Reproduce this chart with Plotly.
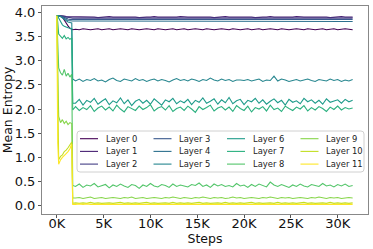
import plotly.graph_objects as go

# ---------------- data ----------------
steps = [0, 100, 200, 400, 600, 800, 1000, 1200, 1400, 1600, 1700] + list(range(2000, 31601, 400))

layer_names = ["Layer 0", "Layer 1", "Layer 2", "Layer 3", "Layer 4", "Layer 5",
               "Layer 6", "Layer 7", "Layer 8", "Layer 9", "Layer 10", "Layer 11"]

layer_colors = ["#440154", "#482173", "#433e85", "#38588c", "#2d708e", "#25858e",
                "#1e9b8a", "#2ab07f", "#52c569", "#86d549", "#c2df23", "#fde725"]

layer_0 = [3.93, 3.93, 3.93, 3.92, 3.90, 3.85, 3.78, 3.72, 3.67, 3.65, 3.64,
           3.65, 3.64, 3.66, 3.65, 3.64, 3.65, 3.66, 3.64, 3.65, 3.66,
           3.64, 3.65, 3.66, 3.65, 3.64, 3.66, 3.65, 3.64, 3.65, 3.66,
           3.65, 3.64, 3.66, 3.65, 3.64, 3.65, 3.66, 3.64, 3.65, 3.66,
           3.64, 3.65, 3.66, 3.65, 3.64, 3.66, 3.65, 3.64, 3.65, 3.66,
           3.65, 3.64, 3.66, 3.65, 3.64, 3.65, 3.66, 3.64, 3.65, 3.66,
           3.64, 3.65, 3.66, 3.65, 3.64, 3.66, 3.65, 3.64, 3.65, 3.66,
           3.65, 3.64, 3.66, 3.65, 3.64, 3.65, 3.66, 3.64, 3.65, 3.66,
           3.64, 3.65, 3.66, 3.65, 3.64]

layer_1 = [3.93, 3.93, 3.93, 3.93, 3.93, 3.92, 3.91, 3.91, 3.90, 3.90, 3.90,
           3.90, 3.90, 3.91, 3.90, 3.90, 3.90, 3.89, 3.90, 3.90, 3.91,
           3.90, 3.90, 3.90, 3.90, 3.91, 3.90, 3.90, 3.89, 3.90, 3.90,
           3.90, 3.91, 3.90, 3.90, 3.90, 3.90, 3.89, 3.90, 3.91, 3.90,
           3.90, 3.90, 3.90, 3.91, 3.90, 3.90, 3.90, 3.89, 3.90, 3.90,
           3.91, 3.90, 3.90, 3.90, 3.90, 3.91, 3.90, 3.90, 3.89, 3.90,
           3.90, 3.90, 3.91, 3.90, 3.90, 3.90, 3.90, 3.89, 3.90, 3.91,
           3.90, 3.90, 3.90, 3.90, 3.91, 3.90, 3.90, 3.90, 3.89, 3.90,
           3.90, 3.91, 3.90, 3.90, 3.90]

layer_2 = [3.93, 3.93, 3.93, 3.93, 3.92, 3.91, 3.90, 3.89, 3.88, 3.88, 3.88,
           3.88, 3.88, 3.87, 3.88, 3.88, 3.88, 3.88, 3.87, 3.88, 3.88,
           3.88, 3.87, 3.88, 3.88, 3.88, 3.88, 3.87, 3.88, 3.88, 3.88,
           3.88, 3.88, 3.87, 3.88, 3.88, 3.88, 3.88, 3.88, 3.87, 3.88,
           3.88, 3.88, 3.88, 3.87, 3.88, 3.88, 3.88, 3.88, 3.88, 3.87,
           3.88, 3.88, 3.88, 3.87, 3.88, 3.88, 3.88, 3.88, 3.87, 3.88,
           3.88, 3.88, 3.88, 3.88, 3.87, 3.88, 3.88, 3.88, 3.88, 3.87,
           3.88, 3.88, 3.88, 3.88, 3.88, 3.87, 3.88, 3.88, 3.88, 3.88,
           3.87, 3.88, 3.88, 3.88, 3.88]

layer_3 = [3.93, 3.93, 3.93, 3.92, 3.91, 3.89, 3.87, 3.86, 3.85, 3.85, 3.85,
           3.85, 3.85, 3.85, 3.84, 3.85, 3.85, 3.85, 3.85, 3.84, 3.85,
           3.85, 3.85, 3.84, 3.85, 3.85, 3.85, 3.85, 3.85, 3.84, 3.85,
           3.85, 3.84, 3.85, 3.85, 3.85, 3.85, 3.84, 3.85, 3.85, 3.85,
           3.85, 3.85, 3.84, 3.85, 3.85, 3.85, 3.85, 3.84, 3.85, 3.85,
           3.85, 3.84, 3.85, 3.85, 3.85, 3.85, 3.85, 3.84, 3.85, 3.85,
           3.85, 3.85, 3.85, 3.84, 3.85, 3.85, 3.85, 3.85, 3.84, 3.85,
           3.85, 3.85, 3.84, 3.85, 3.85, 3.85, 3.85, 3.85, 3.84, 3.85,
           3.85, 3.85, 3.85, 3.84, 3.85]

layer_4 = [3.93, 3.93, 3.93, 3.92, 3.90, 3.87, 3.85, 3.83, 3.82, 3.82, 3.82,
           3.82, 3.82, 3.81, 3.82, 3.82, 3.82, 3.82, 3.81, 3.82, 3.82,
           3.82, 3.81, 3.82, 3.82, 3.82, 3.82, 3.82, 3.81, 3.82, 3.82,
           3.82, 3.82, 3.81, 3.82, 3.82, 3.82, 3.81, 3.82, 3.82, 3.82,
           3.82, 3.82, 3.82, 3.81, 3.82, 3.82, 3.82, 3.82, 3.81, 3.82,
           3.82, 3.81, 3.82, 3.82, 3.82, 3.82, 3.82, 3.81, 3.82, 3.82,
           3.82, 3.82, 3.81, 3.82, 3.82, 3.82, 3.82, 3.82, 3.81, 3.82,
           3.82, 3.82, 3.82, 3.81, 3.82, 3.82, 3.82, 3.82, 3.82, 3.81,
           3.82, 3.82, 3.82, 3.82, 3.81]

layer_5 = [3.93, 3.93, 3.93, 3.91, 3.88, 3.85, 3.82, 3.80, 3.79, 3.78, 2.62,
           2.58, 2.62, 2.57, 2.61, 2.59, 2.63, 2.58, 2.60, 2.56, 2.61,
           2.64, 2.59, 2.57, 2.62, 2.60, 2.58, 2.63, 2.59, 2.61, 2.57,
           2.60, 2.62, 2.58, 2.61, 2.59, 2.56, 2.60, 2.63, 2.59, 2.61,
           2.58, 2.62, 2.60, 2.57, 2.61, 2.59, 2.64, 2.60, 2.58, 2.62,
           2.59, 2.61, 2.57, 2.60, 2.60, 2.59, 2.61, 2.58, 2.60, 2.62,
           2.57, 2.60, 2.59, 2.68, 2.58, 2.62, 2.60, 2.57, 2.59, 2.61,
           2.58, 2.60, 2.62, 2.59, 2.57, 2.61, 2.60, 2.58, 2.62, 2.59,
           2.61, 2.57, 2.60, 2.58, 2.61]

layer_6 = [3.93, 3.92, 3.88, 3.80, 3.74, 3.71, 3.69, 3.68, 3.67, 3.66, 2.12,
           2.12, 2.20, 2.08, 2.18, 2.14, 2.22, 2.10, 2.16, 2.21, 2.09,
           2.17, 2.13, 2.23, 2.11, 2.19, 2.07, 2.16, 2.20, 2.12, 2.18,
           2.10, 2.21, 2.14, 2.08, 2.19, 2.15, 2.22, 2.11, 2.17, 2.13,
           2.20, 2.09, 2.18, 2.14, 2.23, 2.12, 2.16, 2.21, 2.10, 2.19,
           2.13, 2.24, 2.11, 2.17, 2.20, 2.09, 2.18, 2.15, 2.22, 2.12,
           2.19, 2.10, 2.16, 2.21, 2.13, 2.18, 2.08, 2.20, 2.14, 2.17,
           2.11, 2.22, 2.15, 2.19, 2.12, 2.18, 2.10, 2.21, 2.14, 2.17,
           2.19, 2.12, 2.20, 2.15, 2.18]

layer_7 = [3.93, 3.80, 3.55, 3.50, 3.46, 3.52, 3.45, 3.48, 3.44, 3.47, 1.98,
           2.05, 1.97, 2.03, 1.99, 2.07, 1.95, 2.02, 2.06, 1.98, 2.04,
           1.96, 2.08, 2.00, 1.94, 2.05, 2.01, 1.97, 2.06, 1.99, 2.03,
           2.09, 1.96, 2.02, 2.05, 1.98, 2.07, 1.95, 2.01, 2.04, 1.97,
           2.06, 2.00, 1.93, 2.05, 1.99, 2.03, 2.08, 1.96, 2.02, 2.05,
           1.98, 2.04, 1.95, 2.07, 2.01, 1.97, 2.06, 1.94, 2.03, 2.00,
           2.05, 1.96, 2.08, 1.99, 2.02, 1.95, 2.06, 2.01, 1.97, 2.04,
           2.00, 2.07, 1.96, 2.03, 1.98, 2.05, 2.01, 1.95, 2.04, 1.99,
           2.06, 1.98, 2.03, 2.00, 2.02]

layer_8 = [3.93, 3.20, 2.85, 2.75, 2.70, 2.82, 2.68, 2.74, 2.66, 2.72, 0.42,
           0.40, 0.45, 0.38, 0.43, 0.41, 0.46, 0.39, 0.42, 0.44, 0.37,
           0.43, 0.40, 0.45, 0.41, 0.38, 0.44, 0.42, 0.36, 0.43, 0.40,
           0.46, 0.41, 0.39, 0.44, 0.42, 0.38, 0.45, 0.40, 0.43, 0.41,
           0.39, 0.44, 0.42, 0.47, 0.40, 0.43, 0.38, 0.45, 0.41, 0.44,
           0.40, 0.42, 0.39, 0.46, 0.41, 0.43, 0.38, 0.44, 0.40, 0.45,
           0.42, 0.39, 0.49, 0.43, 0.40, 0.44, 0.41, 0.38, 0.43, 0.40,
           0.45, 0.41, 0.39, 0.44, 0.42, 0.40, 0.46, 0.41, 0.43, 0.39,
           0.44, 0.41, 0.45, 0.40, 0.42]

layer_9 = [3.93, 2.50, 1.85, 1.72, 1.78, 1.70, 1.75, 1.68, 1.72, 1.70, 0.16,
           0.16, 0.17, 0.15, 0.16, 0.18, 0.15, 0.16, 0.17, 0.15, 0.16,
           0.17, 0.16, 0.15, 0.17, 0.16, 0.18, 0.15, 0.16, 0.17, 0.15,
           0.16, 0.17, 0.16, 0.15, 0.17, 0.16, 0.18, 0.16, 0.15, 0.17,
           0.16, 0.15, 0.17, 0.16, 0.18, 0.16, 0.15, 0.17, 0.16, 0.17,
           0.15, 0.16, 0.18, 0.16, 0.17, 0.15, 0.16, 0.17, 0.16, 0.15,
           0.17, 0.16, 0.18, 0.16, 0.15, 0.17, 0.16, 0.17, 0.15, 0.16,
           0.17, 0.16, 0.15, 0.17, 0.16, 0.18, 0.16, 0.15, 0.17, 0.16,
           0.17, 0.15, 0.16, 0.17, 0.16]

layer_10 = [3.93, 1.60, 0.95, 1.02, 1.05, 1.12, 1.15, 1.20, 1.25, 1.32, 0.05,
            0.06, 0.05, 0.06, 0.05, 0.07, 0.05, 0.06, 0.05, 0.06, 0.06,
            0.05, 0.06, 0.07, 0.05, 0.06, 0.05, 0.06, 0.05, 0.06, 0.07,
            0.05, 0.06, 0.05, 0.06, 0.06, 0.05, 0.07, 0.05, 0.06, 0.05,
            0.06, 0.05, 0.06, 0.07, 0.05, 0.06, 0.05, 0.06, 0.06, 0.05,
            0.07, 0.05, 0.06, 0.05, 0.06, 0.05, 0.06, 0.07, 0.05, 0.06,
            0.05, 0.06, 0.06, 0.05, 0.07, 0.05, 0.06, 0.05, 0.06, 0.05,
            0.06, 0.07, 0.05, 0.06, 0.05, 0.06, 0.06, 0.05, 0.07, 0.05,
            0.06, 0.05, 0.06, 0.05, 0.06]

layer_11 = [3.93, 1.30, 0.86, 0.95, 1.00, 1.05, 1.08, 1.12, 1.18, 1.28, 0.03,
            0.03, 0.04, 0.03, 0.04, 0.03, 0.03, 0.04, 0.03, 0.04, 0.03,
            0.04, 0.03, 0.03, 0.04, 0.03, 0.04, 0.03, 0.04, 0.03, 0.03,
            0.04, 0.03, 0.04, 0.03, 0.03, 0.04, 0.03, 0.04, 0.03, 0.04,
            0.03, 0.03, 0.04, 0.03, 0.04, 0.03, 0.03, 0.04, 0.03, 0.04,
            0.03, 0.04, 0.03, 0.03, 0.04, 0.03, 0.04, 0.03, 0.03, 0.04,
            0.03, 0.04, 0.03, 0.04, 0.03, 0.03, 0.04, 0.03, 0.04, 0.03,
            0.04, 0.03, 0.03, 0.04, 0.03, 0.04, 0.03, 0.04, 0.03, 0.03,
            0.04, 0.03, 0.04, 0.03, 0.03]

layers = [layer_0, layer_1, layer_2, layer_3, layer_4, layer_5,
          layer_6, layer_7, layer_8, layer_9, layer_10, layer_11]

x_tick_vals = [0, 5000, 10000, 15000, 20000, 25000, 30000]
x_tick_text = ["0K", "5K", "10K", "15K", "20K", "25K", "30K"]
y_tick_vals = [0.0, 0.5, 1.0, 1.5, 2.0, 2.5, 3.0, 3.5, 4.0]
y_tick_text = ["0.0", "0.5", "1.0", "1.5", "2.0", "2.5", "3.0", "3.5", "4.0"]

# ---------------- figure ----------------
FONT = "DejaVu Sans"
W, H = 373, 249
ML, MR, MT, MB = 42, 5, 6, 35
PW, PH = W - ML - MR, H - MT - MB

fig = go.Figure()
for name, color, vals in zip(layer_names, layer_colors, layers):
    fig.add_trace(go.Scatter(x=steps, y=vals, mode="lines", name=name,
                             line=dict(color=color, width=1.1), showlegend=False))

# manual legend (matplotlib-like compact layout: 4 columns x 3 rows)
def px_x(px):
    return (px - ML) / PW

def px_y(py):
    return (H - MB - py) / PH

bx0, bx1, by0, by1 = 77, 364, 131, 172
r = 3
path = (f"M {px_x(bx0 + r)},{px_y(by0)} L {px_x(bx1 - r)},{px_y(by0)} "
        f"Q {px_x(bx1)},{px_y(by0)} {px_x(bx1)},{px_y(by0 + r)} "
        f"L {px_x(bx1)},{px_y(by1 - r)} Q {px_x(bx1)},{px_y(by1)} {px_x(bx1 - r)},{px_y(by1)} "
        f"L {px_x(bx0 + r)},{px_y(by1)} Q {px_x(bx0)},{px_y(by1)} {px_x(bx0)},{px_y(by1 - r)} "
        f"L {px_x(bx0)},{px_y(by0 + r)} Q {px_x(bx0)},{px_y(by0)} {px_x(bx0 + r)},{px_y(by0)} Z")
fig.add_shape(type="path", path=path, xref="paper", yref="paper",
              fillcolor="rgba(255,255,255,0.85)", line=dict(color="#d0d0d0", width=1))

for i, (name, color) in enumerate(zip(layer_names, layer_colors)):
    col, row = i // 3, i % 3
    lx = 80 + col * 73.5
    ly = 138.7 + row * 12.7
    fig.add_shape(type="line", xref="paper", yref="paper",
                  x0=px_x(lx), x1=px_x(lx + 18), y0=px_y(ly), y1=px_y(ly),
                  line=dict(color=color, width=1.1))
    fig.add_annotation(x=px_x(lx + 23.5), y=px_y(ly), xref="paper", yref="paper",
                       text=name, showarrow=False, xanchor="left", yanchor="middle",
                       font=dict(family=FONT, size=8.4, color="#222"))

axis_common = dict(showline=True, linecolor="#888", linewidth=1, mirror=True,
                   ticks="outside", ticklen=3, tickwidth=1, tickcolor="#555",
                   showgrid=False, zeroline=False,
                   tickfont=dict(family=FONT, size=13, color="#111"))

fig.update_xaxes(range=[-1580, 33240], tickvals=x_tick_vals, ticktext=x_tick_text,
                 ticklabelstandoff=-6,
                 title=dict(text="Steps", font=dict(family=FONT, size=12.5, color="#111"), standoff=0),
                 **axis_common)
fig.update_yaxes(range=[-0.17, 4.13], tickvals=y_tick_vals, ticktext=y_tick_text,
                 title=dict(text="Mean Entropy", font=dict(family=FONT, size=12.5, color="#111"), standoff=3),
                 **axis_common)

fig.update_layout(width=W, height=H, margin=dict(l=ML, r=MR, t=MT, b=MB, autoexpand=False),
                  paper_bgcolor="white", plot_bgcolor="white",
                  font=dict(family=FONT), showlegend=False)

fig.write_html("out.html", config={"displayModeBar": False},
               post_script="document.body.style.margin='0';document.body.style.padding='0';")
